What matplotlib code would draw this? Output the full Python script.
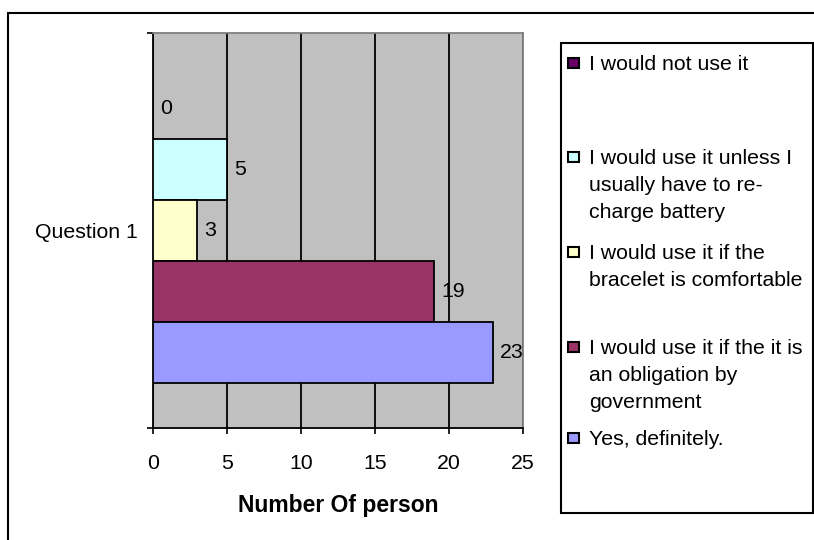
import matplotlib
matplotlib.use("Agg")
import matplotlib.pyplot as plt
from matplotlib.patches import Rectangle

plt.rcParams['font.family'] = ['Liberation Sans', 'DejaVu Sans']

# survey answers, listed from the top bar down
answers = [
    'I would not use it',
    'I would use it unless I\nusually have to re-\ncharge battery',
    'I would use it if the\nbracelet is comfortable',
    'I would use it if the it is\nan obligation by\ngovernment',
    'Yes, definitely.',
]
counts = [0, 5, 3, 19, 23]
colors = ['#660066', '#CCFFFF', '#FFFFCC', '#993366', '#9999FF']
question = 'Question 1'
xticks = [0, 5, 10, 15, 20, 25]

W, H = 814, 540
fig = plt.figure(figsize=(W / 100, H / 100), dpi=100)
fs = 15.3

# plot area in pixels: left 153, right 523, top 33, bottom 428
ax = fig.add_axes([153 / W, 1 - 428 / H, 370 / W, 395 / H])
ax.set_facecolor('#C0C0C0')

bh = 61 / 395
n = len(counts)
for i, (lab, val, col) in enumerate(zip(answers, counts, colors)):
    y = (n // 2 - i) * bh
    bars = ax.barh(y, val, height=bh, color=col, edgecolor='black',
                   linewidth=1.3, zorder=3)
    ax.bar_label(bars, labels=[str(val)], padding=5, fontsize=fs, zorder=4)

ax.set_xlim(0, 25)
ax.set_ylim(-0.5, 0.5)
ax.set_xticks(xticks)
ax.set_xticklabels([str(t) for t in xticks], fontsize=fs)
ax.tick_params(axis='x', direction='out', length=4.5, width=1.2, pad=14)
ax.grid(axis='x', color='black', linewidth=1.3, zorder=1)

ax.set_yticks([-0.5, 0.5])
ax.set_yticklabels([])
ax.tick_params(axis='y', which='major', direction='out', length=4.5, width=1.2)
ax.set_yticks([0], labels=[question], minor=True)
ax.tick_params(axis='y', which='minor', length=0, pad=11, labelsize=fs)

for side in ['left', 'bottom']:
    ax.spines[side].set_linewidth(1.3)
    ax.spines[side].set_color('black')
for side in ['top', 'right']:
    ax.spines[side].set_linewidth(1.3)
    ax.spines[side].set_color('#808080')

ax.set_xlabel('Number Of person', fontsize=16.5, fontweight='bold')
ax.xaxis.set_label_coords(0.5, -0.195)
ax.xaxis.label.set_va('center')

# outer chart frame (runs past the right and bottom edges)
fig.patches.append(Rectangle((7.5 / W, -0.1), 1.2, 1 - 13 / H + 0.1,
                             transform=fig.transFigure, fill=False,
                             edgecolor='black', linewidth=1.5))

# legend box drawn by hand
lx0, lx1, ly0, ly1 = 561, 813, 43, 513
fig.patches.append(Rectangle((lx0 / W, 1 - ly1 / H), (lx1 - lx0) / W,
                             (ly1 - ly0) / H, transform=fig.transFigure,
                             fill=False, edgecolor='black', linewidth=1.5))
entry_y = [63, 157, 252, 347, 438]
sq = 10.5
for lab, col, ey in zip(answers, colors, entry_y):
    fig.patches.append(Rectangle((568 / W, 1 - (ey + sq / 2) / H), sq / W,
                                 sq / H, transform=fig.transFigure,
                                 facecolor=col, edgecolor='black',
                                 linewidth=1.5))
    fig.text(589 / W, 1 - (ey - 8) / H, lab, fontsize=fs, va='top',
             ha='left', linespacing=1.52)

fig.savefig('out.png', dpi=100)
